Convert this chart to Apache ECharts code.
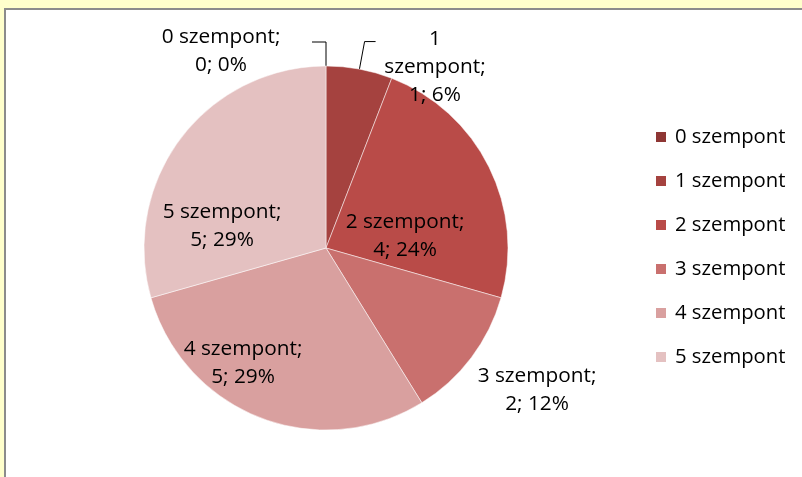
<!DOCTYPE html>
<html><head><meta charset="utf-8">
<script src="https://cdn.jsdelivr.net/npm/echarts@6/dist/echarts.min.js"></script>
<style>html,body{margin:0;padding:0;background:#FFFFCC}#c{width:802px;height:477px}</style>
</head><body><div id="c"></div>
<script>
const categories = ['0 szempont','1 szempont','2 szempont','3 szempont','4 szempont','5 szempont'];
const values = [0, 1, 4, 2, 5, 5];
const percents = ['0%','6%','24%','12%','29%','29%'];
const colors = ['#8E3634','#A5423F','#B94B48','#C9706E','#D9A09F','#E4C1C1'];

const FONT = 'Open Sans';
const CX = 326, CY = 248, R = 182;
// label centre offsets from the pie centre (layout only)
const labelOffsets = [[-105,-197],[109,-181],[79,-12],[211,142],[-83,115],[-104,-22]];
// leader line: [radial length, horizontal length, side]
const leader = [[24,14,-1],[28,11,1],null,null,null,null];

const total = values.reduce((a,b)=>a+b,0);
function midAngle(i){
  let cum = 0; for (let k=0;k<i;k++) cum += values[k];
  return (90 - 360*(cum + values[i]/2)/total) * Math.PI/180;
}

const chart = echarts.init(document.getElementById('c'));
chart.setOption({
  backgroundColor:'#FFFFCC',
  animation:false,
  graphic:[{type:'rect',shape:{x:5,y:9,width:820,height:500},style:{fill:'#FFFFFF',stroke:'#8C8C8C',lineWidth:2},z:-10,silent:true}],
  color: colors,
  legend:{
    orient:'vertical', left:654, top:127, padding:0,
    itemWidth:12, itemHeight:12, itemGap:24,
    icon:'rect',
    textStyle:{fontFamily:FONT,fontSize:20.3,color:'#000',lineHeight:20,padding:[0,0,0,3]},
    data: categories
  },
  series:[{
    type:'pie',
    center:[CX,CY], radius:R,
    startAngle:90, clockwise:true,
    avoidLabelOverlap:false,
    itemStyle:{borderColor:'#fff',borderWidth:0.5},
    label:{fontFamily:FONT,fontSize:20.8,color:'#000',lineHeight:28,align:'center'},
    labelLine:{lineStyle:{color:'#000',width:1}},
    labelLayout: function(p){
      const i = p.dataIndex;
      const o = labelOffsets[i];
      const res = {x: CX + o[0], y: CY + o[1], align:'center', verticalAlign:'middle'};
      const L = leader[i];
      if (L) {
        const a = midAngle(i), c = Math.cos(a), s = Math.sin(a);
        const p0 = [CX + R*c, CY - R*s];
        const p1 = [CX + (R+L[0])*c, CY - (R+L[0])*s];
        const p2 = [p1[0] + L[2]*L[1], p1[1]];
        res.labelLinePoints = [p0, p1, p2];
      }
      return res;
    },
    data: categories.map((c,i)=>({
      name:c, value:values[i],
      label:{
        position: (leader[i] || i===3) ? 'outside' : 'inside',
        formatter: i===1 ? ('1\nszempont;\n'+values[i]+'; '+percents[i]) : (c+';\n'+values[i]+'; '+percents[i])
      },
      labelLine:{show: !!leader[i]}
    }))
  }]
});
</script></body></html>
